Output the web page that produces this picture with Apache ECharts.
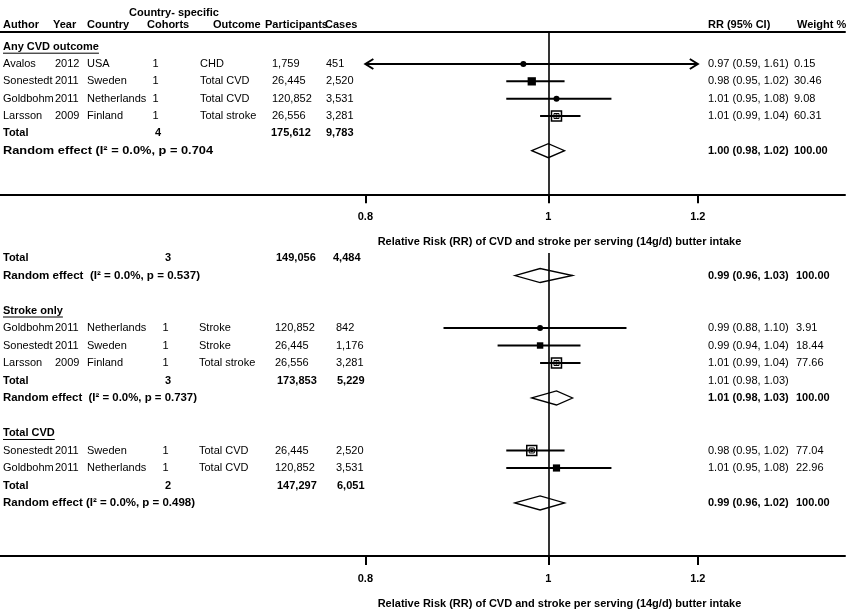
<!DOCTYPE html>
<html><head><meta charset="utf-8">
<script src="https://cdn.jsdelivr.net/npm/echarts@6/dist/echarts.min.js"></script>
<style>html,body{margin:0;padding:0;background:#fff}#c{width:850px;height:613px}</style>
</head><body><div id="c"></div>
<script>
// ---------------- data ----------------
const tickValues = [0.8, 1, 1.2];
const axisTitle = 'Relative Risk (RR) of CVD and stroke per serving (14g/d) butter intake';
const headerTop = 'Country- specific';
const headers = ['Author', 'Year', 'Country', 'Cohorts', 'Outcome', 'Participants', 'Cases', 'RR (95% CI)', 'Weight %'];
const sectionTitles = ['Any CVD outcome', 'Stroke only', 'Total CVD'];
const hetLabels = [
  'Random effect (I\u00B2 = 0.0%, p = 0.704',
  'Random effect  (I\u00B2 = 0.0%, p = 0.537)',
  'Random effect  (I\u00B2 = 0.0%, p = 0.737)',
  'Random effect (I\u00B2 = 0.0%, p = 0.498)'
];

// Any CVD outcome
const anyAuthors = ['Avalos', 'Sonestedt', 'Goldbohm', 'Larsson'];
const anyYears = ['2012', '2011', '2011', '2009'];
const anyCountries = ['USA', 'Sweden', 'Netherlands', 'Finland'];
const anyCohorts = [1, 1, 1, 1];
const anyOutcomes = ['CHD', 'Total CVD', 'Total CVD', 'Total stroke'];
const anyParticipants = [1759, 26445, 120852, 26556];
const anyCases = [451, 2520, 3531, 3281];
const anyRR = [0.97, 0.98, 1.01, 1.01];
const anyLo = [0.59, 0.95, 0.95, 0.99];
const anyHi = [1.61, 1.02, 1.08, 1.04];
const anyWeight = [0.15, 30.46, 9.08, 60.31];
const anyTotal = [4, 175612, 9783];          // cohorts, participants, cases
const anyPooled = [1.00, 0.98, 1.02, 100.00]; // RR, lower, upper, weight

// subgroup whose rows are cut off above the lower panel
const cutTotal = [3, 149056, 4484];
const cutPooled = [0.99, 0.96, 1.03, 100.00];

// Stroke only
const strokeAuthors = ['Goldbohm', 'Sonestedt', 'Larsson'];
const strokeYears = ['2011', '2011', '2009'];
const strokeCountries = ['Netherlands', 'Sweden', 'Finland'];
const strokeCohorts = [1, 1, 1];
const strokeOutcomes = ['Stroke', 'Stroke', 'Total stroke'];
const strokeParticipants = [120852, 26445, 26556];
const strokeCases = [842, 1176, 3281];
const strokeRR = [0.99, 0.99, 1.01];
const strokeLo = [0.88, 0.94, 0.99];
const strokeHi = [1.10, 1.04, 1.04];
const strokeWeight = [3.91, 18.44, 77.66];
const strokeTotal = [3, 173853, 5229];
const strokeTotalCI = [1.01, 0.98, 1.03];
const strokePooled = [1.01, 0.98, 1.03, 100.00];

// Total CVD
const cvdAuthors = ['Sonestedt', 'Goldbohm'];
const cvdYears = ['2011', '2011'];
const cvdCountries = ['Sweden', 'Netherlands'];
const cvdCohorts = [1, 1];
const cvdOutcomes = ['Total CVD', 'Total CVD'];
const cvdParticipants = [26445, 120852];
const cvdCases = [2520, 3531];
const cvdRR = [0.98, 1.01];
const cvdLo = [0.95, 0.95];
const cvdHi = [1.02, 1.08];
const cvdWeight = [77.04, 22.96];
const cvdTotal = [2, 147297, 6051];
const cvdPooled = [0.99, 0.96, 1.02, 100.00];

// ---------------- layout ----------------
const FAM = '"Liberation Sans", Arial, sans-serif';
const FS = 11;
const XMIN = -0.6687, XMAX = 0.3618;   // ln(RR) range across the full width
const COLS = [
  {author: 3, year: 55, country: 87, cohort: 155.5, cohortTot: 158, outcome: 200, part: 272, partTot: 271, cases: 326, casesTot: 326, rr: 708, w: 794},
  {author: 3, year: 55, country: 87, cohort: 165.5, cohortTot: 168, outcome: 199, part: 275, partTot: 277, cases: 336, casesTot: 336, rr: 708, w: 796}
];

const fmtInt = n => String(n).replace(/\B(?=(\d{3})+(?!\d))/g, ',');
const fmtCI = (r, l, h) => r.toFixed(2) + ' (' + l.toFixed(2) + ', ' + h.toFixed(2) + ')';

const cv = document.createElement('canvas').getContext('2d');
function measure(text, bold) { cv.font = (bold ? 'bold ' : '') + FS + 'px ' + FAM; return cv.measureText(text).width; }

const texts = [[], []];
const marks = [[], []];
function T(g, row, x, text, bold, ul, align, width) { texts[g].push({row, x, text, bold: !!bold, ul: !!ul, align: align || 'left', width: width || 0}); }

function addStudies(g, start, au, yr, co, ch, oc, pa, ca, rr, lo, hi, w) {
  const c = COLS[g];
  for (let k = 0; k < au.length; k++) {
    const r = start + k;
    T(g, r, c.author, au[k]); T(g, r, c.year, yr[k]); T(g, r, c.country, co[k]);
    T(g, r, c.cohort, String(ch[k]), false, false, 'center');
    T(g, r, c.outcome, oc[k]); T(g, r, c.part, fmtInt(pa[k])); T(g, r, c.cases, fmtInt(ca[k]));
    T(g, r, c.rr, fmtCI(rr[k], lo[k], hi[k])); T(g, r, c.w, w[k].toFixed(2));
    marks[g].push([Math.log(rr[k]), r, Math.log(lo[k]), Math.log(hi[k]), w[k], 0]);
  }
}
function addTotal(g, r, tot) {
  const c = COLS[g];
  T(g, r, 3, 'Total', true);
  T(g, r, c.cohortTot, String(tot[0]), true, false, 'center');
  T(g, r, c.partTot, fmtInt(tot[1]), true);
  T(g, r, c.casesTot, fmtInt(tot[2]), true);
}
function addPooled(g, r, label, p, labelWidth) {
  const c = COLS[g];
  T(g, r, 3, label, true, false, 'left', labelWidth);
  T(g, r, c.rr, fmtCI(p[0], p[1], p[2]), true);
  T(g, r, c.w, p[3].toFixed(2), true);
  marks[g].push([Math.log(p[0]), r, Math.log(p[1]), Math.log(p[2]), p[3], 1]);
}

// header (top panel)
const HX = [3, 53, 87, 147, 213, 265, 325, 708, 797];
T(0, -1.962, 129, headerTop, true);
headers.forEach((h, i) => T(0, -1.252, HX[i], h, true));

// top panel
T(0, 0, 3, sectionTitles[0], true, true);
addStudies(0, 1, anyAuthors, anyYears, anyCountries, anyCohorts, anyOutcomes, anyParticipants, anyCases, anyRR, anyLo, anyHi, anyWeight);
addTotal(0, 5, anyTotal);
addPooled(0, 6, hetLabels[0], anyPooled, 210);

// bottom panel
COLS[1].partTot = 276; COLS[1].casesTot = 333;
addTotal(1, -3, cutTotal);
COLS[1].partTot = 277; COLS[1].casesTot = 337;
addPooled(1, -2, hetLabels[1], cutPooled, 197);
T(1, 0, 3, sectionTitles[1], true, true);
addStudies(1, 1, strokeAuthors, strokeYears, strokeCountries, strokeCohorts, strokeOutcomes, strokeParticipants, strokeCases, strokeRR, strokeLo, strokeHi, strokeWeight);
addTotal(1, 4, strokeTotal);
T(1, 4, COLS[1].rr, fmtCI(strokeTotalCI[0], strokeTotalCI[1], strokeTotalCI[2]));
addPooled(1, 5, hetLabels[2], strokePooled, 194);
T(1, 7, 3, sectionTitles[2], true, true);
addStudies(1, 8, cvdAuthors, cvdYears, cvdCountries, cvdCohorts, cvdOutcomes, cvdParticipants, cvdCases, cvdRR, cvdLo, cvdHi, cvdWeight);
addTotal(1, 10, cvdTotal);
addPooled(1, 11, hetLabels[3], cvdPooled, 192);

// ---------------- chart ----------------
const tickLn = tickValues.map(Math.log);
const lblStyle = {color: '#000', fontSize: FS, fontFamily: FAM, fontWeight: 'bold'};

function bottomAxis(gi) {
  return {
    type: 'value', gridIndex: gi, position: 'bottom', min: XMIN, max: XMAX,
    axisLine: {show: true, onZero: false, lineStyle: {color: '#000', width: 2}},
    axisTick: {show: true, customValues: tickLn, length: 9, lineStyle: {color: '#000', width: 2}},
    axisLabel: Object.assign({show: true, customValues: tickLn, margin: 17,
      formatter: v => String(Math.round(Math.exp(v) * 100) / 100)}, lblStyle),
    splitLine: {show: false},
    name: axisTitle, nameLocation: 'middle', nameGap: 42,
    nameTextStyle: Object.assign({padding: [0, 0, 0, 274]}, lblStyle)
  };
}

function textSeries(g) {
  return {
    type: 'custom', xAxisIndex: g === 0 ? 0 : 2, yAxisIndex: g, silent: true, clip: false, z: 5,
    data: texts[g].map((t, i) => [0, t.row, i]), encode: {x: 0, y: 1},
    renderItem: (params, api) => {
      const t = texts[g][api.value(2)];
      const y = api.coord([0, api.value(1)])[1];
      const sx = t.width ? t.width / measure(t.text, t.bold) : 1;
      const ch = [{type: 'text', x: t.x, y: y, scaleX: sx, style: {text: t.text, fill: '#000', fontSize: FS, fontFamily: FAM,
        fontWeight: t.bold ? 'bold' : 'normal', align: t.align, verticalAlign: 'middle'}}];
      if (t.ul) {
        const w = measure(t.text, t.bold);
        ch.push({type: 'line', shape: {x1: t.x, y1: y + 6.5, x2: t.x + w, y2: y + 6.5}, style: {stroke: '#000', lineWidth: 1}});
      }
      return {type: 'group', children: ch};
    }
  };
}

function forestSeries(g) {
  return {
    type: 'custom', xAxisIndex: g === 0 ? 0 : 2, yAxisIndex: g, silent: true, clip: false, z: 4,
    data: marks[g], encode: {x: 0, y: 1},
    renderItem: (params, api) => {
      const row = api.value(1);
      const p = api.coord([api.value(0), row]);
      const y = p[1], cx = p[0];
      let xl = api.coord([api.value(2), row])[0];
      let xh = api.coord([api.value(3), row])[0];
      const kind = api.value(5), w = api.value(4);
      if (kind === 1) {
        return {type: 'polygon', shape: {points: [[xl, y], [cx, y - 7], [xh, y], [cx, y + 7]]},
          style: {fill: 'none', stroke: '#000', lineWidth: 1.3}};
      }
      const cMin = api.coord([tickLn[0], row])[0];
      const cMax = api.coord([tickLn[tickLn.length - 1], row])[0];
      const ch = [];
      let arrowL = false, arrowR = false;
      if (xl < cMin) { xl = cMin; arrowL = true; }
      if (xh > cMax) { xh = cMax; arrowR = true; }
      ch.push({type: 'line', shape: {x1: xl, y1: y, x2: xh, y2: y}, style: {stroke: '#000', lineWidth: 2}});
      if (arrowL) ch.push({type: 'polyline', shape: {points: [[xl + 8, y - 5], [xl, y], [xl + 8, y + 5]]}, style: {stroke: '#000', lineWidth: 2, fill: 'none'}});
      if (arrowR) ch.push({type: 'polyline', shape: {points: [[xh - 8, y - 5], [xh, y], [xh - 8, y + 5]]}, style: {stroke: '#000', lineWidth: 2, fill: 'none'}});
      if (w >= 50) {
        const s = 10;
        ch.push({type: 'rect', shape: {x: cx - s / 2, y: y - s / 2, width: s, height: s}, style: {fill: 'none', stroke: '#000', lineWidth: 1.5}});
        ch.push({type: 'rect', shape: {x: cx - s / 2 + 2.5, y: y - s / 2 + 2.5, width: s - 5, height: s - 5}, style: {fill: 'none', stroke: '#000', lineWidth: 1}});
        ch.push({type: 'circle', shape: {cx: cx, cy: y, r: 1.8}, style: {fill: '#000'}});
      } else if (w >= 15) {
        const s = 1.5 * Math.sqrt(w);
        ch.push({type: 'rect', shape: {x: cx - s / 2, y: y - s / 2, width: s, height: s}, style: {fill: '#000'}});
      } else {
        ch.push({type: 'circle', shape: {cx: cx, cy: y, r: 3}, style: {fill: '#000'}});
      }
      return {type: 'group', children: ch};
    },
    markLine: {silent: true, symbol: ['none', 'none'], animation: false, label: {show: false},
      lineStyle: {color: '#000', width: 1.6, type: 'solid'}, data: [{xAxis: 0}]}
  };
}

const chart = echarts.init(document.getElementById('c'), null, {renderer: 'canvas'});
chart.setOption({
  animation: false,
  backgroundColor: '#fff',
  grid: [
    {left: 0, right: 5, top: 32, height: 162.3, outerBoundsMode: 'none', containLabel: false},
    {left: 0, right: 5, top: 253, height: 303, outerBoundsMode: 'none', containLabel: false}
  ],
  xAxis: [
    bottomAxis(0),
    {type: 'value', gridIndex: 0, position: 'top', min: XMIN, max: XMAX,
      axisLine: {show: true, onZero: false, lineStyle: {color: '#000', width: 2}},
      axisTick: {show: false}, axisLabel: {show: false}, splitLine: {show: false}},
    bottomAxis(1)
  ],
  yAxis: [
    {type: 'value', gridIndex: 0, inverse: true, min: -0.848, max: 8.517, show: false},
    {type: 'value', gridIndex: 1, inverse: true, min: -3.286, max: 14.029, show: false}
  ],
  series: [forestSeries(0), textSeries(0), forestSeries(1), textSeries(1)]
});
</script>
</body></html>
